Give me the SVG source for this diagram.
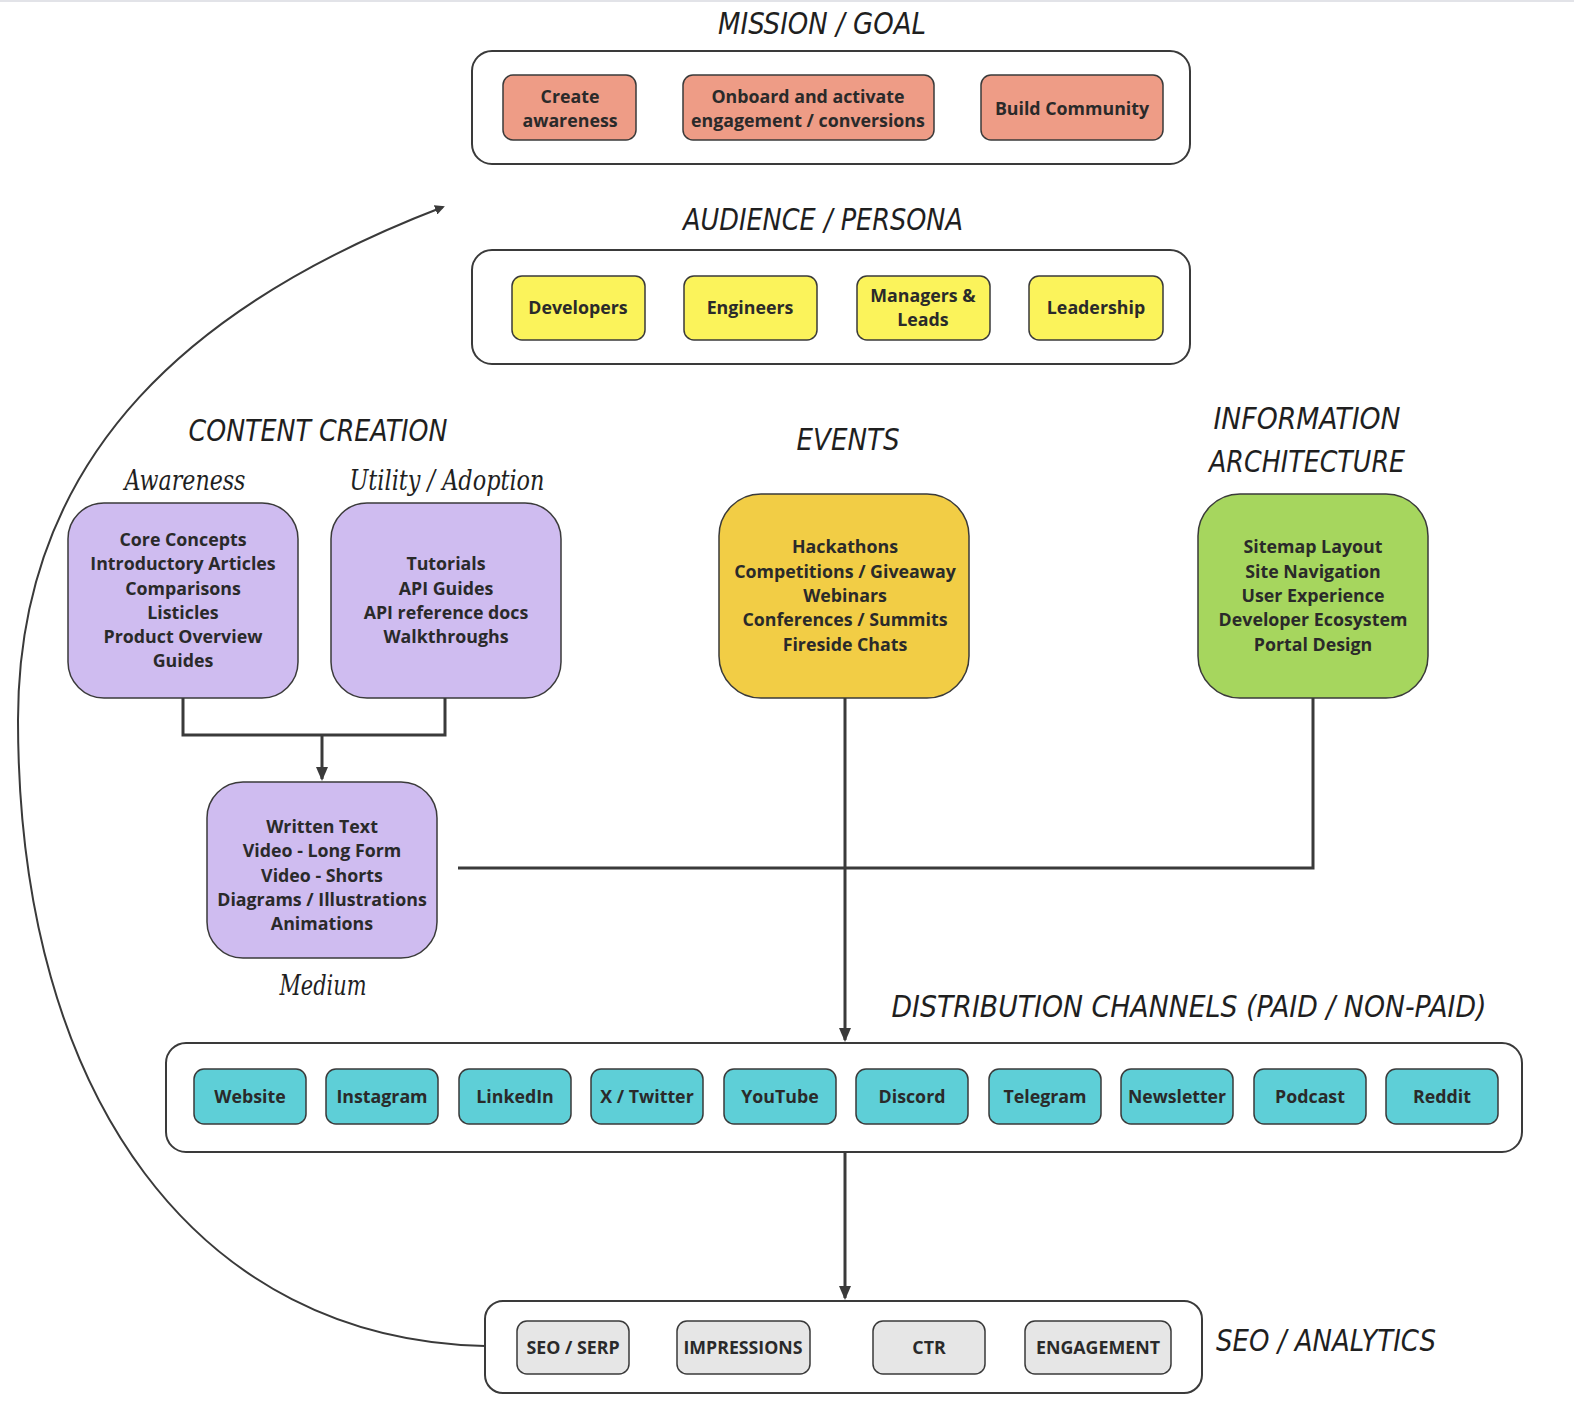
<svg xmlns="http://www.w3.org/2000/svg" width="1574" height="1410" viewBox="0 0 1574 1410">
<defs>
<marker id="arr" markerWidth="10" markerHeight="10" refX="8" refY="5" orient="auto" markerUnits="userSpaceOnUse">
<path d="M0,0 L10,5 L0,10 z" fill="#3a3a3a"/>
</marker>
<marker id="arr2" markerWidth="14" markerHeight="12" refX="12" refY="6" orient="auto" markerUnits="userSpaceOnUse">
<path d="M0,0 L14,6 L0,12 z" fill="#3a3a3a"/>
</marker>
<style>
.t{font-family:"DejaVu Sans Condensed","Liberation Sans Narrow","DejaVu Sans",sans-serif;font-style:italic;font-size:30px;fill:#1f1f1f;text-anchor:middle}
.s{font-family:"DejaVu Serif","Liberation Serif",serif;font-style:italic;font-size:27px;fill:#1f1f1f;text-anchor:middle}
.b{font-family:"Open Sans","Noto Sans",sans-serif;font-weight:700;font-size:17.8px;fill:#2a2a2a;text-anchor:middle}
.bs{font-family:"Open Sans","Noto Sans",sans-serif;font-weight:700;font-size:17.8px;fill:#2a2a2a;text-anchor:middle}
.grp{fill:#fff;stroke:#3a3a3a;stroke-width:2}
.n{stroke:#3a3a3a;stroke-width:1.5}
.sal{fill:#EE9C86}
.yel{fill:#FBF35B}
.pur{fill:#CFBCF0}
.evt{fill:#F2CD45}
.grn{fill:#A6D65E}
.tea{fill:#5ECFD7}
.gry{fill:#E6E6E6}
.c{fill:none;stroke:#3a3a3a;stroke-width:3}
</style>
</defs>
<rect x="0" y="0" width="1574" height="2" fill="#e2e3e8"/>

<!-- titles -->
<text class="t" x="822" y="34" textLength="208" lengthAdjust="spacingAndGlyphs">MISSION / GOAL</text>
<text class="t" x="823" y="230" textLength="280" lengthAdjust="spacingAndGlyphs">AUDIENCE / PERSONA</text>
<text class="t" x="318" y="441" textLength="259" lengthAdjust="spacingAndGlyphs">CONTENT CREATION</text>
<text class="s" x="185" y="490" textLength="121" lengthAdjust="spacingAndGlyphs">Awareness</text>
<text class="s" x="447" y="490" textLength="195" lengthAdjust="spacingAndGlyphs">Utility / Adoption</text>
<text class="t" x="848" y="450" textLength="103" lengthAdjust="spacingAndGlyphs">EVENTS</text>
<text class="t" x="1307" y="429" textLength="187" lengthAdjust="spacingAndGlyphs">INFORMATION</text>
<text class="t" x="1307" y="472" textLength="196" lengthAdjust="spacingAndGlyphs">ARCHITECTURE</text>
<text class="s" x="323" y="995" textLength="87" lengthAdjust="spacingAndGlyphs">Medium</text>
<text class="t" x="1189" y="1017" textLength="595" lengthAdjust="spacingAndGlyphs">DISTRIBUTION CHANNELS (PAID  / NON-PAID)</text>
<text class="t" x="1326" y="1351" textLength="220" lengthAdjust="spacingAndGlyphs">SEO / ANALYTICS</text>

<!-- connectors -->
<g id="connectors">
<path class="c" d="M183,698 V735 H445 V698"/>
<path class="c" d="M322,735 V779" marker-end="url(#arr2)"/>
<path class="c" d="M458,868 H1313 V698"/>
<path class="c" d="M845,698 V1040" marker-end="url(#arr2)"/>
<path class="c" d="M845,1152 V1298" marker-end="url(#arr2)"/>
<path fill="none" stroke="#3a3a3a" stroke-width="2" d="M485,1346 C200,1340 18,1100 18,720 C18,450 200,300 443,207" marker-end="url(#arr)"/>
</g>

<!-- mission -->
<g id="mission">
<rect class="grp" x="472" y="51" width="718" height="113" rx="20"/>
<g id="create-awareness"><rect class="n sal" x="503" y="75" width="133" height="65" rx="10"/>
<text class="b" x="570" y="103">Create</text><text class="b" x="570" y="127">awareness</text></g>
<g id="onboard"><rect class="n sal" x="683" y="75" width="251" height="65" rx="10"/>
<text class="b" x="808" y="103">Onboard and activate</text><text class="b" x="808" y="127">engagement / conversions</text></g>
<g id="build-community"><rect class="n sal" x="981" y="75" width="182" height="65" rx="10"/>
<text class="b" x="1072" y="115">Build Community</text></g>
</g>

<!-- audience -->
<g id="audience">
<rect class="grp" x="472" y="250" width="718" height="114" rx="20"/>
<g id="developers"><rect class="n yel" x="512" y="276" width="133" height="64" rx="10"/><text class="b" x="578" y="314">Developers</text></g>
<g id="engineers"><rect class="n yel" x="684" y="276" width="133" height="64" rx="10"/><text class="b" x="750" y="314">Engineers</text></g>
<g id="managers"><rect class="n yel" x="857" y="276" width="133" height="64" rx="10"/><text class="b" x="923" y="302">Managers &amp;</text><text class="b" x="923" y="326">Leads</text></g>
<g id="leadership"><rect class="n yel" x="1029" y="276" width="134" height="64" rx="10"/><text class="b" x="1096" y="314">Leadership</text></g>
</g>

<!-- content creation -->
<g id="awareness">
<rect class="n pur" x="68" y="503" width="230" height="195" rx="36"/>
<text class="bs" x="183" y="546">Core Concepts</text>
<text class="bs" x="183" y="570">Introductory Articles</text>
<text class="bs" x="183" y="595">Comparisons</text>
<text class="bs" x="183" y="619">Listicles</text>
<text class="bs" x="183" y="643">Product Overview</text>
<text class="bs" x="183" y="667">Guides</text>
</g>
<g id="utility">
<rect class="n pur" x="331" y="503" width="230" height="195" rx="36"/>
<text class="bs" x="446" y="570">Tutorials</text>
<text class="bs" x="446" y="595">API Guides</text>
<text class="bs" x="446" y="619">API reference docs</text>
<text class="bs" x="446" y="643">Walkthroughs</text>
</g>
<g id="medium">
<rect class="n pur" x="207" y="782" width="230" height="176" rx="36"/>
<text class="bs" x="322" y="833">Written Text</text>
<text class="bs" x="322" y="857">Video - Long Form</text>
<text class="bs" x="322" y="882">Video - Shorts</text>
<text class="bs" x="322" y="906">Diagrams / Illustrations</text>
<text class="bs" x="322" y="930">Animations</text>
</g>

<!-- events -->
<g id="events">
<rect class="n evt" x="719" y="494" width="250" height="204" rx="42"/>
<text class="bs" x="845" y="553">Hackathons</text>
<text class="bs" x="845" y="578">Competitions / Giveaway</text>
<text class="bs" x="845" y="602">Webinars</text>
<text class="bs" x="845" y="626">Conferences / Summits</text>
<text class="bs" x="845" y="651">Fireside Chats</text>
</g>

<!-- information architecture -->
<g id="info-arch">
<rect class="n grn" x="1198" y="494" width="230" height="204" rx="42"/>
<text class="bs" x="1313" y="553">Sitemap Layout</text>
<text class="bs" x="1313" y="578">Site Navigation</text>
<text class="bs" x="1313" y="602">User Experience</text>
<text class="bs" x="1313" y="626">Developer Ecosystem</text>
<text class="bs" x="1313" y="651">Portal Design</text>
</g>

<!-- distribution -->
<g id="distribution">
<rect class="grp" x="166" y="1043" width="1356" height="109" rx="20"/>
<g id="website"><rect class="n tea" x="194" y="1069" width="112" height="55" rx="10"/><text class="b" x="250" y="1103">Website</text></g>
<g id="instagram"><rect class="n tea" x="326" y="1069" width="112" height="55" rx="10"/><text class="b" x="382" y="1103">Instagram</text></g>
<g id="linkedin"><rect class="n tea" x="459" y="1069" width="112" height="55" rx="10"/><text class="b" x="515" y="1103">LinkedIn</text></g>
<g id="twitter"><rect class="n tea" x="591" y="1069" width="112" height="55" rx="10"/><text class="b" x="647" y="1103">X / Twitter</text></g>
<g id="youtube"><rect class="n tea" x="724" y="1069" width="112" height="55" rx="10"/><text class="b" x="780" y="1103">YouTube</text></g>
<g id="discord"><rect class="n tea" x="856" y="1069" width="112" height="55" rx="10"/><text class="b" x="912" y="1103">Discord</text></g>
<g id="telegram"><rect class="n tea" x="989" y="1069" width="112" height="55" rx="10"/><text class="b" x="1045" y="1103">Telegram</text></g>
<g id="newsletter"><rect class="n tea" x="1121" y="1069" width="112" height="55" rx="10"/><text class="b" x="1177" y="1103" textLength="98" lengthAdjust="spacingAndGlyphs">Newsletter</text></g>
<g id="podcast"><rect class="n tea" x="1254" y="1069" width="112" height="55" rx="10"/><text class="b" x="1310" y="1103">Podcast</text></g>
<g id="reddit"><rect class="n tea" x="1386" y="1069" width="112" height="55" rx="10"/><text class="b" x="1442" y="1103">Reddit</text></g>
</g>

<!-- seo / analytics -->
<g id="seo">
<rect class="grp" x="485" y="1301" width="717" height="92" rx="18"/>
<g id="seo-serp"><rect class="n gry" x="517" y="1321" width="112" height="53" rx="10"/><text class="b" x="573" y="1354">SEO / SERP</text></g>
<g id="impressions"><rect class="n gry" x="677" y="1321" width="133" height="53" rx="10"/><text class="b" x="743" y="1354" textLength="119" lengthAdjust="spacingAndGlyphs">IMPRESSIONS</text></g>
<g id="ctr"><rect class="n gry" x="873" y="1321" width="112" height="53" rx="10"/><text class="b" x="929" y="1354">CTR</text></g>
<g id="engagement"><rect class="n gry" x="1025" y="1321" width="146" height="53" rx="10"/><text class="b" x="1098" y="1354" textLength="124" lengthAdjust="spacingAndGlyphs">ENGAGEMENT</text></g>
</g>
</svg>
